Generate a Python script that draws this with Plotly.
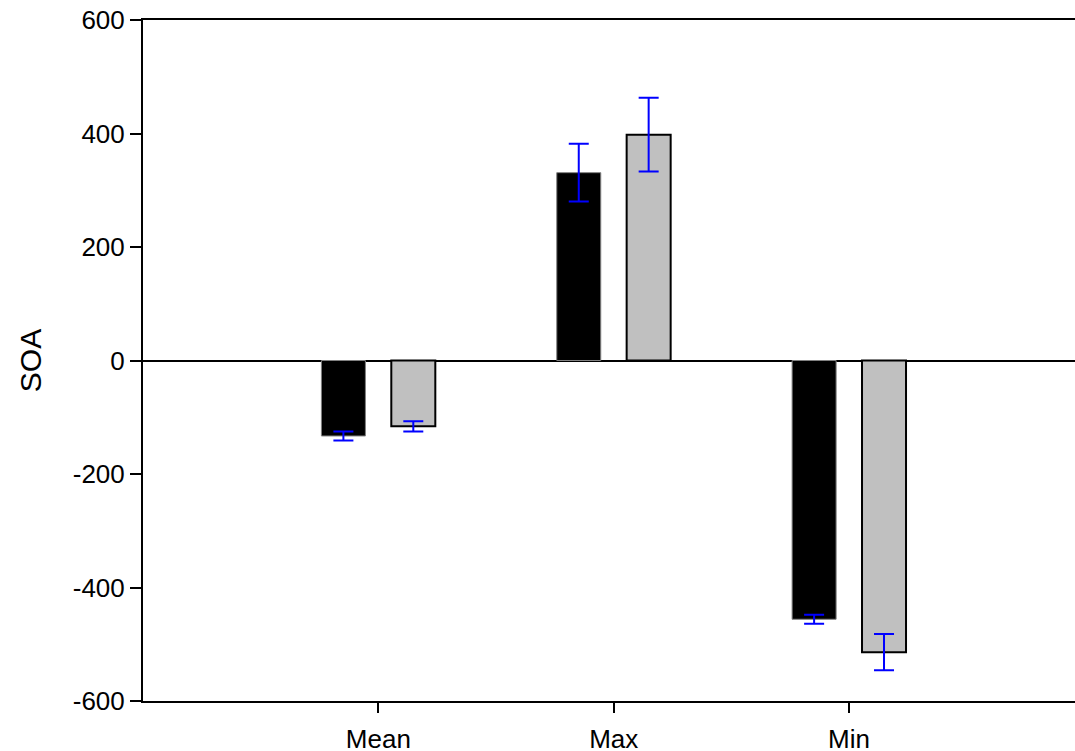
import plotly.graph_objects as go

# Summary statistics of SOA for two groups
categories = ["Mean", "Max", "Min"]
group_a = [-133, 331, -456]
group_a_err = [8, 51, 8]
group_b = [-116, 398, -514]
group_b_err = [9, 65, 32]
y_ticks = [-600, -400, -200, 0, 200, 400, 600]
y_tick_text = ["-600", "-400", "-200", "0", "200", "400", "600"]

x_pos = list(range(len(categories)))
bar_w = 0.187

fig = go.Figure()
fig.add_trace(go.Bar(
    x=x_pos, y=group_a, width=bar_w, offset=-0.242,
    marker=dict(color="#000000", line=dict(color="#808080", width=1)),
    error_y=dict(type="data", array=group_a_err, color="#0000FF", thickness=2, width=10),
    showlegend=False,
))
fig.add_trace(go.Bar(
    x=x_pos, y=group_b, width=bar_w, offset=0.055,
    marker=dict(color="#C0C0C0", line=dict(color="#000000", width=2)),
    error_y=dict(type="data", array=group_b_err, color="#0000FF", thickness=2, width=10),
    showlegend=False,
))

font_family = "Liberation Sans, Arial, sans-serif"
fig.update_layout(
    width=1075, height=751,
    margin=dict(l=143, r=0, t=20, b=50),
    paper_bgcolor="white", plot_bgcolor="white",
    font=dict(family=font_family, color="black", size=26),
    xaxis=dict(
        range=[-1, 2.96], tickmode="array", tickvals=x_pos, ticktext=categories,
        showline=True, linecolor="black", linewidth=2, mirror=True,
        ticks="outside", ticklen=10, tickwidth=2, tickcolor="black",
        showgrid=False, zeroline=False, tickfont=dict(size=26),
        ticklabelstandoff=4, automargin=False,
    ),
    yaxis=dict(
        range=[-600, 600], tickmode="array", tickvals=y_ticks, ticktext=y_tick_text,
        showline=True, linecolor="black", linewidth=2,
        ticks="outside", ticklen=11, tickwidth=2, tickcolor="black",
        showgrid=False, zeroline=True, zerolinecolor="black", zerolinewidth=2,
        tickfont=dict(size=26), ticklabelstandoff=0, automargin=False,
        title=dict(text="SOA", font=dict(size=30), standoff=22),
        layer="above traces",
    ),
)

fig.write_html("out.html")
